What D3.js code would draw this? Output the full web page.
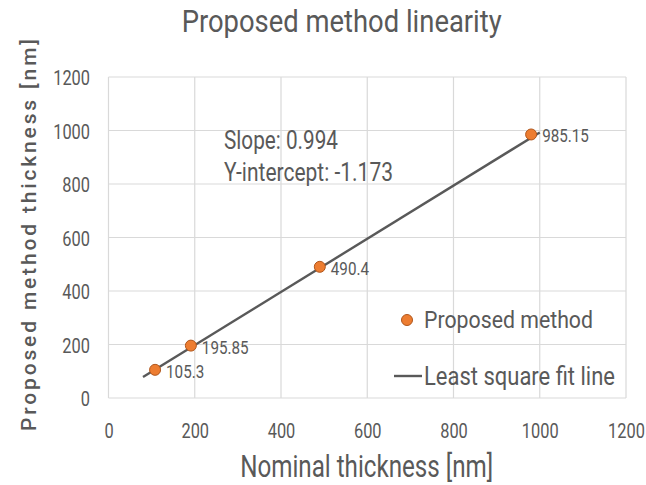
<!DOCTYPE html>
<html>
<head>
<meta charset="utf-8">
<script src="https://cdn.jsdelivr.net/npm/d3@7"></script>
<style>
  body { margin: 0; background: #fff; }
  svg text { font-family: Roboto, "DejaVu Sans", sans-serif; fill: #595959; }
</style>
</head>
<body>
<div id="chart"></div>
<script>
const nominal = [108, 191, 490, 980];
const measured = [105.3, 195.85, 490.4, 985.15];
const pointLabels = ["105.3", "195.85", "490.4", "985.15"];

// least square fit, drawn between two end points
const fitX = [80, 1000];
const fitY = [78.4, 992.8];

const xTicks = [0, 200, 400, 600, 800, 1000, 1200];
const yTicks = [0, 200, 400, 600, 800, 1000, 1200];

const width = 646, height = 485;
const margin = {top: 77, left: 108.5};
const innerW = 626 - margin.left, innerH = 398 - margin.top;
const textColor = "#595959";

const svg = d3.select("#chart").append("svg")
    .attr("width", width).attr("height", height);
const plot = svg.append("g")
    .attr("transform", "translate(" + margin.left + "," + margin.top + ")");

const x = d3.scaleLinear().domain([0, 1200]).range([0, innerW]);
const y = d3.scaleLinear().domain([0, 1200]).range([innerH, 0]);

// squeeze text horizontally, the original font is a narrow DIN-like face
function condense(sel, factor) {
    sel.each(function() {
        const len = this.getComputedTextLength();
        d3.select(this).attr("textLength", len * factor)
            .attr("lengthAdjust", "spacingAndGlyphs");
    });
}
function fitWidth(sel, w) {
    sel.attr("textLength", w).attr("lengthAdjust", "spacingAndGlyphs");
}

// grid
plot.append("g").selectAll("line").data(xTicks).join("line")
    .attr("x1", d => x(d)).attr("x2", d => x(d))
    .attr("y1", 0).attr("y2", innerH)
    .attr("stroke", "#d9d9d9").attr("stroke-width", 1.2);
plot.append("g").selectAll("line").data(yTicks).join("line")
    .attr("x1", 0).attr("x2", innerW)
    .attr("y1", d => y(d)).attr("y2", d => y(d))
    .attr("stroke", "#d9d9d9").attr("stroke-width", 1.2);

// axes (labels only)
const xAxis = plot.append("g")
    .attr("transform", "translate(0," + innerH + ")")
    .call(d3.axisBottom(x).tickValues(xTicks).tickFormat(d3.format("d"))
        .tickSize(0).tickPadding(25));
const yAxis = plot.append("g")
    .call(d3.axisLeft(y).tickValues(yTicks).tickFormat(d3.format("d"))
        .tickSize(0).tickPadding(18.5));
[xAxis, yAxis].forEach(a => {
    a.select(".domain").remove();
    a.attr("font-family", null).attr("font-size", null);
    a.selectAll("text").attr("font-size", 21).style("fill", textColor);
});
// x labels sit at x=0 inside their tick, so a plain scale keeps them centred
xAxis.selectAll("text").attr("transform", "scale(0.78,1)");
yAxis.selectAll("text").attr("dy", "0.38em").call(condense, 0.78);

// fit line
const line = d3.line().x(d => x(d[0])).y(d => y(d[1]));
plot.append("path")
    .datum(fitX.map((d, i) => [d, fitY[i]]))
    .attr("d", line)
    .attr("fill", "none")
    .attr("stroke", textColor)
    .attr("stroke-width", 2.4);

// points
plot.append("g").selectAll("circle").data(nominal).join("circle")
    .attr("cx", d => x(d))
    .attr("cy", (d, i) => y(measured[i]))
    .attr("r", 5.5)
    .attr("fill", "#ED7D31")
    .attr("stroke", "#B0561C")
    .attr("stroke-width", 1);

plot.append("g").selectAll("text").data(nominal).join("text")
    .attr("x", d => x(d) + 11)
    .attr("y", (d, i) => y(measured[i]) + 8)
    .attr("font-size", 19)
    .text((d, i) => pointLabels[i])
    .call(condense, 0.8);

// annotation
svg.append("text").attr("x", 224).attr("y", 149)
    .attr("font-size", 25).text("Slope: 0.994").call(fitWidth, 114);
svg.append("text").attr("x", 224).attr("y", 181)
    .attr("font-size", 25).text("Y-intercept: -1.173").call(fitWidth, 169);

// legend
svg.append("circle").attr("cx", 407).attr("cy", 320).attr("r", 5.5)
    .attr("fill", "#ED7D31").attr("stroke", "#B0561C");
svg.append("text").attr("x", 424).attr("y", 328)
    .attr("font-size", 24).text("Proposed method").call(fitWidth, 169);
svg.append("line").attr("x1", 394).attr("x2", 422)
    .attr("y1", 376).attr("y2", 376)
    .attr("stroke", textColor).attr("stroke-width", 2.4);
svg.append("text").attr("x", 424).attr("y", 385)
    .attr("font-size", 25).text("Least square fit line").call(fitWidth, 191);

// titles
svg.append("text").attr("x", 341.7).attr("y", 32)
    .attr("text-anchor", "middle").attr("font-size", 31)
    .text("Proposed method linearity").call(fitWidth, 320);
svg.append("text").attr("x", 366.7).attr("y", 477)
    .attr("text-anchor", "middle").attr("font-size", 31)
    .text("Nominal thickness [nm]").call(fitWidth, 253);
svg.append("text")
    .attr("transform", "translate(36,235) rotate(-90)")
    .attr("text-anchor", "middle").attr("font-size", 21)
    .attr("font-weight", 500)
    .attr("textLength", 392).attr("lengthAdjust", "spacing")
    .text("Proposed method thickness [nm]");
</script>
</body>
</html>
